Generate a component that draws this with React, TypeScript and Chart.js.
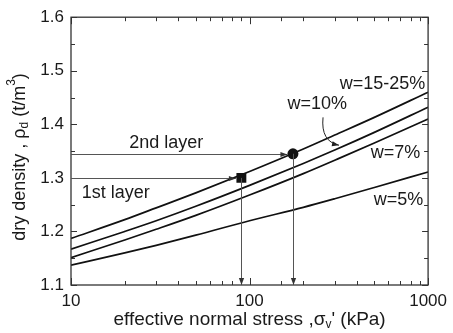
import React, { useEffect, useRef } from "react";
import { Chart, registerables } from "chart.js";

Chart.register(...registerables);

// ---- data ----
const stress = [10, 20, 30, 50, 100, 200, 300, 500, 1000];
const w15_25 = [1.187, 1.222, 1.244, 1.272, 1.312, 1.354, 1.38, 1.413, 1.46];
const w10 = [1.167, 1.2, 1.22, 1.247, 1.286, 1.327, 1.352, 1.385, 1.432];
const w7 = [1.151, 1.184, 1.204, 1.23, 1.268, 1.308, 1.333, 1.365, 1.41];
const w5 = [1.137, 1.16, 1.174, 1.193, 1.22, 1.245, 1.261, 1.282, 1.311];

const layerStress = [90, 175];
const layerDensity = [1.3, 1.345];
const layerNames = ["1st layer", "2nd layer"];

const curveLabels = ["w=15-25%", "w=10%", "w=7%", "w=5%"];
const xTickLabels = [10, 100, 1000];
const yTickLabels = [1.1, 1.2, 1.3, 1.4, 1.5, 1.6];

const FONT = "'Liberation Sans', Arial, sans-serif";
const INK = "#1a1a1a";

type Seg = { t: string; size: number; dy: number };

function drawRich(ctx: CanvasRenderingContext2D, segs: Seg[], cx: number, cy: number) {
  let total = 0;
  const widths = segs.map((s) => {
    ctx.font = `${s.size}px ${FONT}`;
    const w = ctx.measureText(s.t).width;
    total += w;
    return w;
  });
  let x = cx - total / 2;
  segs.forEach((s, i) => {
    ctx.font = `${s.size}px ${FONT}`;
    ctx.fillText(s.t, x, cy + s.dy);
    x += widths[i];
  });
}

function arrowHead(ctx: CanvasRenderingContext2D, x: number, y: number, ang: number, len = 7, half = 2.6) {
  ctx.beginPath();
  ctx.moveTo(x, y);
  ctx.lineTo(x - len * Math.cos(ang) + half * Math.sin(ang), y - len * Math.sin(ang) - half * Math.cos(ang));
  ctx.lineTo(x - len * Math.cos(ang) - half * Math.sin(ang), y - len * Math.sin(ang) + half * Math.cos(ang));
  ctx.closePath();
  ctx.fill();
}

const decorPlugin = {
  id: "decor",
  afterDraw(chart: any) {
    const ctx: CanvasRenderingContext2D = chart.ctx;
    const xs = chart.scales.x;
    const ys = chart.scales.y;
    const a = chart.chartArea;
    ctx.save();

    // frame
    ctx.strokeStyle = "#333";
    ctx.lineWidth = 1.3;
    ctx.strokeRect(a.left, a.top, a.right - a.left, a.bottom - a.top);

    // ticks (inward, all four sides)
    ctx.lineWidth = 1;
    ctx.beginPath();
    for (let v = 1.1; v <= 1.6001; v += 0.05) {
      const y = Math.round(ys.getPixelForValue(v)) + 0.5;
      const major = Math.abs(Math.round(v * 10) - v * 10) < 1e-6;
      const L = major ? 6 : 4;
      ctx.moveTo(a.left, y);
      ctx.lineTo(a.left + L, y);
      ctx.moveTo(a.right, y);
      ctx.lineTo(a.right - L, y);
    }
    xs.ticks.forEach((t: any) => {
      const v = t.value;
      const x = Math.round(xs.getPixelForValue(v)) + 0.5;
      const major = xTickLabels.includes(v);
      const L = major ? 7 : 4;
      ctx.moveTo(x, a.bottom);
      ctx.lineTo(x, a.bottom - L);
      ctx.moveTo(x, a.top);
      ctx.lineTo(x, a.top + L);
    });
    ctx.stroke();

    // guide arrows
    ctx.strokeStyle = "#555";
    ctx.fillStyle = "#333";
    ctx.lineWidth = 1;
    layerStress.forEach((s, i) => {
      const px = xs.getPixelForValue(s);
      const py = ys.getPixelForValue(layerDensity[i]);
      const gap = 5.5;
      ctx.beginPath();
      ctx.moveTo(a.left, Math.round(py) + 0.5);
      ctx.lineTo(px - gap, Math.round(py) + 0.5);
      ctx.stroke();
      arrowHead(ctx, px - gap, Math.round(py) + 0.5, 0);
      ctx.beginPath();
      ctx.moveTo(Math.round(px) + 0.5, py);
      ctx.lineTo(Math.round(px) + 0.5, a.bottom);
      ctx.stroke();
      arrowHead(ctx, Math.round(px) + 0.5, a.bottom, Math.PI / 2);
    });

    // curved arrow to w=10% line
    const sx = xs.getPixelForValue(258), sy = ys.getPixelForValue(1.413);
    const cxp = xs.getPixelForValue(250), cyp = ys.getPixelForValue(1.368);
    const ex = xs.getPixelForValue(317), ey = ys.getPixelForValue(1.361);
    ctx.strokeStyle = "#222";
    ctx.beginPath();
    ctx.moveTo(sx, sy);
    ctx.quadraticCurveTo(cxp, cyp, ex, ey);
    ctx.stroke();
    ctx.fillStyle = "#222";
    arrowHead(ctx, ex, ey, Math.atan2(ey - cyp, ex - cxp), 7, 2.6);

    // text labels
    ctx.fillStyle = INK;
    ctx.textBaseline = "middle";
    ctx.textAlign = "left";
    ctx.font = `18px ${FONT}`;
    const labelPos: [number, number][] = [
      [320, 1.476],
      [163, 1.437],
      [477, 1.346],
      [496, 1.259],
    ];
    curveLabels.forEach((t, i) => {
      ctx.fillText(t, xs.getPixelForValue(labelPos[i][0]), ys.getPixelForValue(labelPos[i][1]));
    });
    const layerPos: [number, number][] = [
      [11.5, 1.272],
      [21.2, 1.365],
    ];
    layerNames.forEach((t, i) => {
      ctx.fillText(t, xs.getPixelForValue(layerPos[i][0]), ys.getPixelForValue(layerPos[i][1]));
    });

    // axis titles
    ctx.textAlign = "left";
    ctx.textBaseline = "middle";
    drawRich(
      ctx,
      [
        { t: "effective normal stress ,σ", size: 19, dy: 0 },
        { t: "v", size: 12, dy: 5 },
        { t: "' (kPa)", size: 19, dy: 0 },
      ],
      (a.left + a.right) / 2,
      320
    );
    ctx.save();
    ctx.translate(20, 157);
    ctx.rotate(-Math.PI / 2);
    drawRich(
      ctx,
      [
        { t: "dry density , ρ", size: 18, dy: 0 },
        { t: "d", size: 12, dy: 5 },
        { t: " (t/m", size: 18, dy: 0 },
        { t: "3", size: 12, dy: -8 },
        { t: ")", size: 18, dy: 0 },
      ],
      0,
      0
    );
    ctx.restore();
    ctx.restore();
  },
};

export default function App() {
  const ref = useRef<HTMLCanvasElement>(null);
  useEffect(() => {
    if (!ref.current) return;
    const mk = (vals: number[]) => stress.map((s, i) => ({ x: s, y: vals[i] }));
    const lineStyle = {
      borderColor: "#111",
      borderWidth: 1.7,
      pointRadius: 0,
      fill: false,
      tension: 0.4,
      cubicInterpolationMode: "monotone" as const,
    };
    const chart = new Chart(ref.current, {
      type: "line",
      data: {
        datasets: [
          { label: curveLabels[0], data: mk(w15_25), ...lineStyle },
          { label: curveLabels[1], data: mk(w10), ...lineStyle },
          { label: curveLabels[2], data: mk(w7), ...lineStyle },
          { label: curveLabels[3], data: mk(w5), ...lineStyle },
          {
            label: "layers",
            data: layerStress.map((s, i) => ({ x: s, y: layerDensity[i] })),
            showLine: false,
            pointStyle: ["rect", "circle"],
            pointRadius: [7, 5.5],
            pointBackgroundColor: "#111",
            pointBorderColor: "#111",
            pointBorderWidth: 0,
          } as any,
        ],
      },
      options: {
        responsive: false,
        animation: false,
        events: [],
        layout: { padding: { top: 15, right: 21, left: 0, bottom: 0 } },
        plugins: { legend: { display: false }, tooltip: { enabled: false } },
        scales: {
          x: {
            type: "logarithmic",
            min: 10,
            max: 1000,
            grid: { display: false, drawTicks: false },
            border: { display: false },
            ticks: {
              autoSkip: false,
              maxRotation: 0,
              padding: 6,
              color: INK,
              font: { family: FONT, size: 17 },
              callback: (v: any) => (xTickLabels.includes(Number(v)) ? String(v) : ""),
            },
            afterFit: (s: any) => {
              s.height = 48;
            },
          },
          y: {
            type: "linear",
            min: 1.1,
            max: 1.6,
            grid: { display: false, drawTicks: false },
            border: { display: false },
            ticks: {
              stepSize: 0.1,
              padding: 7,
              color: INK,
              font: { family: FONT, size: 17 },
              callback: (v: any) => {
                const n = Number(Number(v).toFixed(1));
                return yTickLabels.includes(n) ? n.toFixed(1) : "";
              },
            },
            afterFit: (s: any) => {
              s.width = 71;
            },
          },
        },
      },
      plugins: [decorPlugin],
    });
    return () => chart.destroy();
  }, []);
  return (
    <div style={{ position: "absolute", left: 0, top: 0, width: 453, height: 333, background: "#fff" }}>
      <canvas ref={ref} width={453} height={333} />
    </div>
  );
}
